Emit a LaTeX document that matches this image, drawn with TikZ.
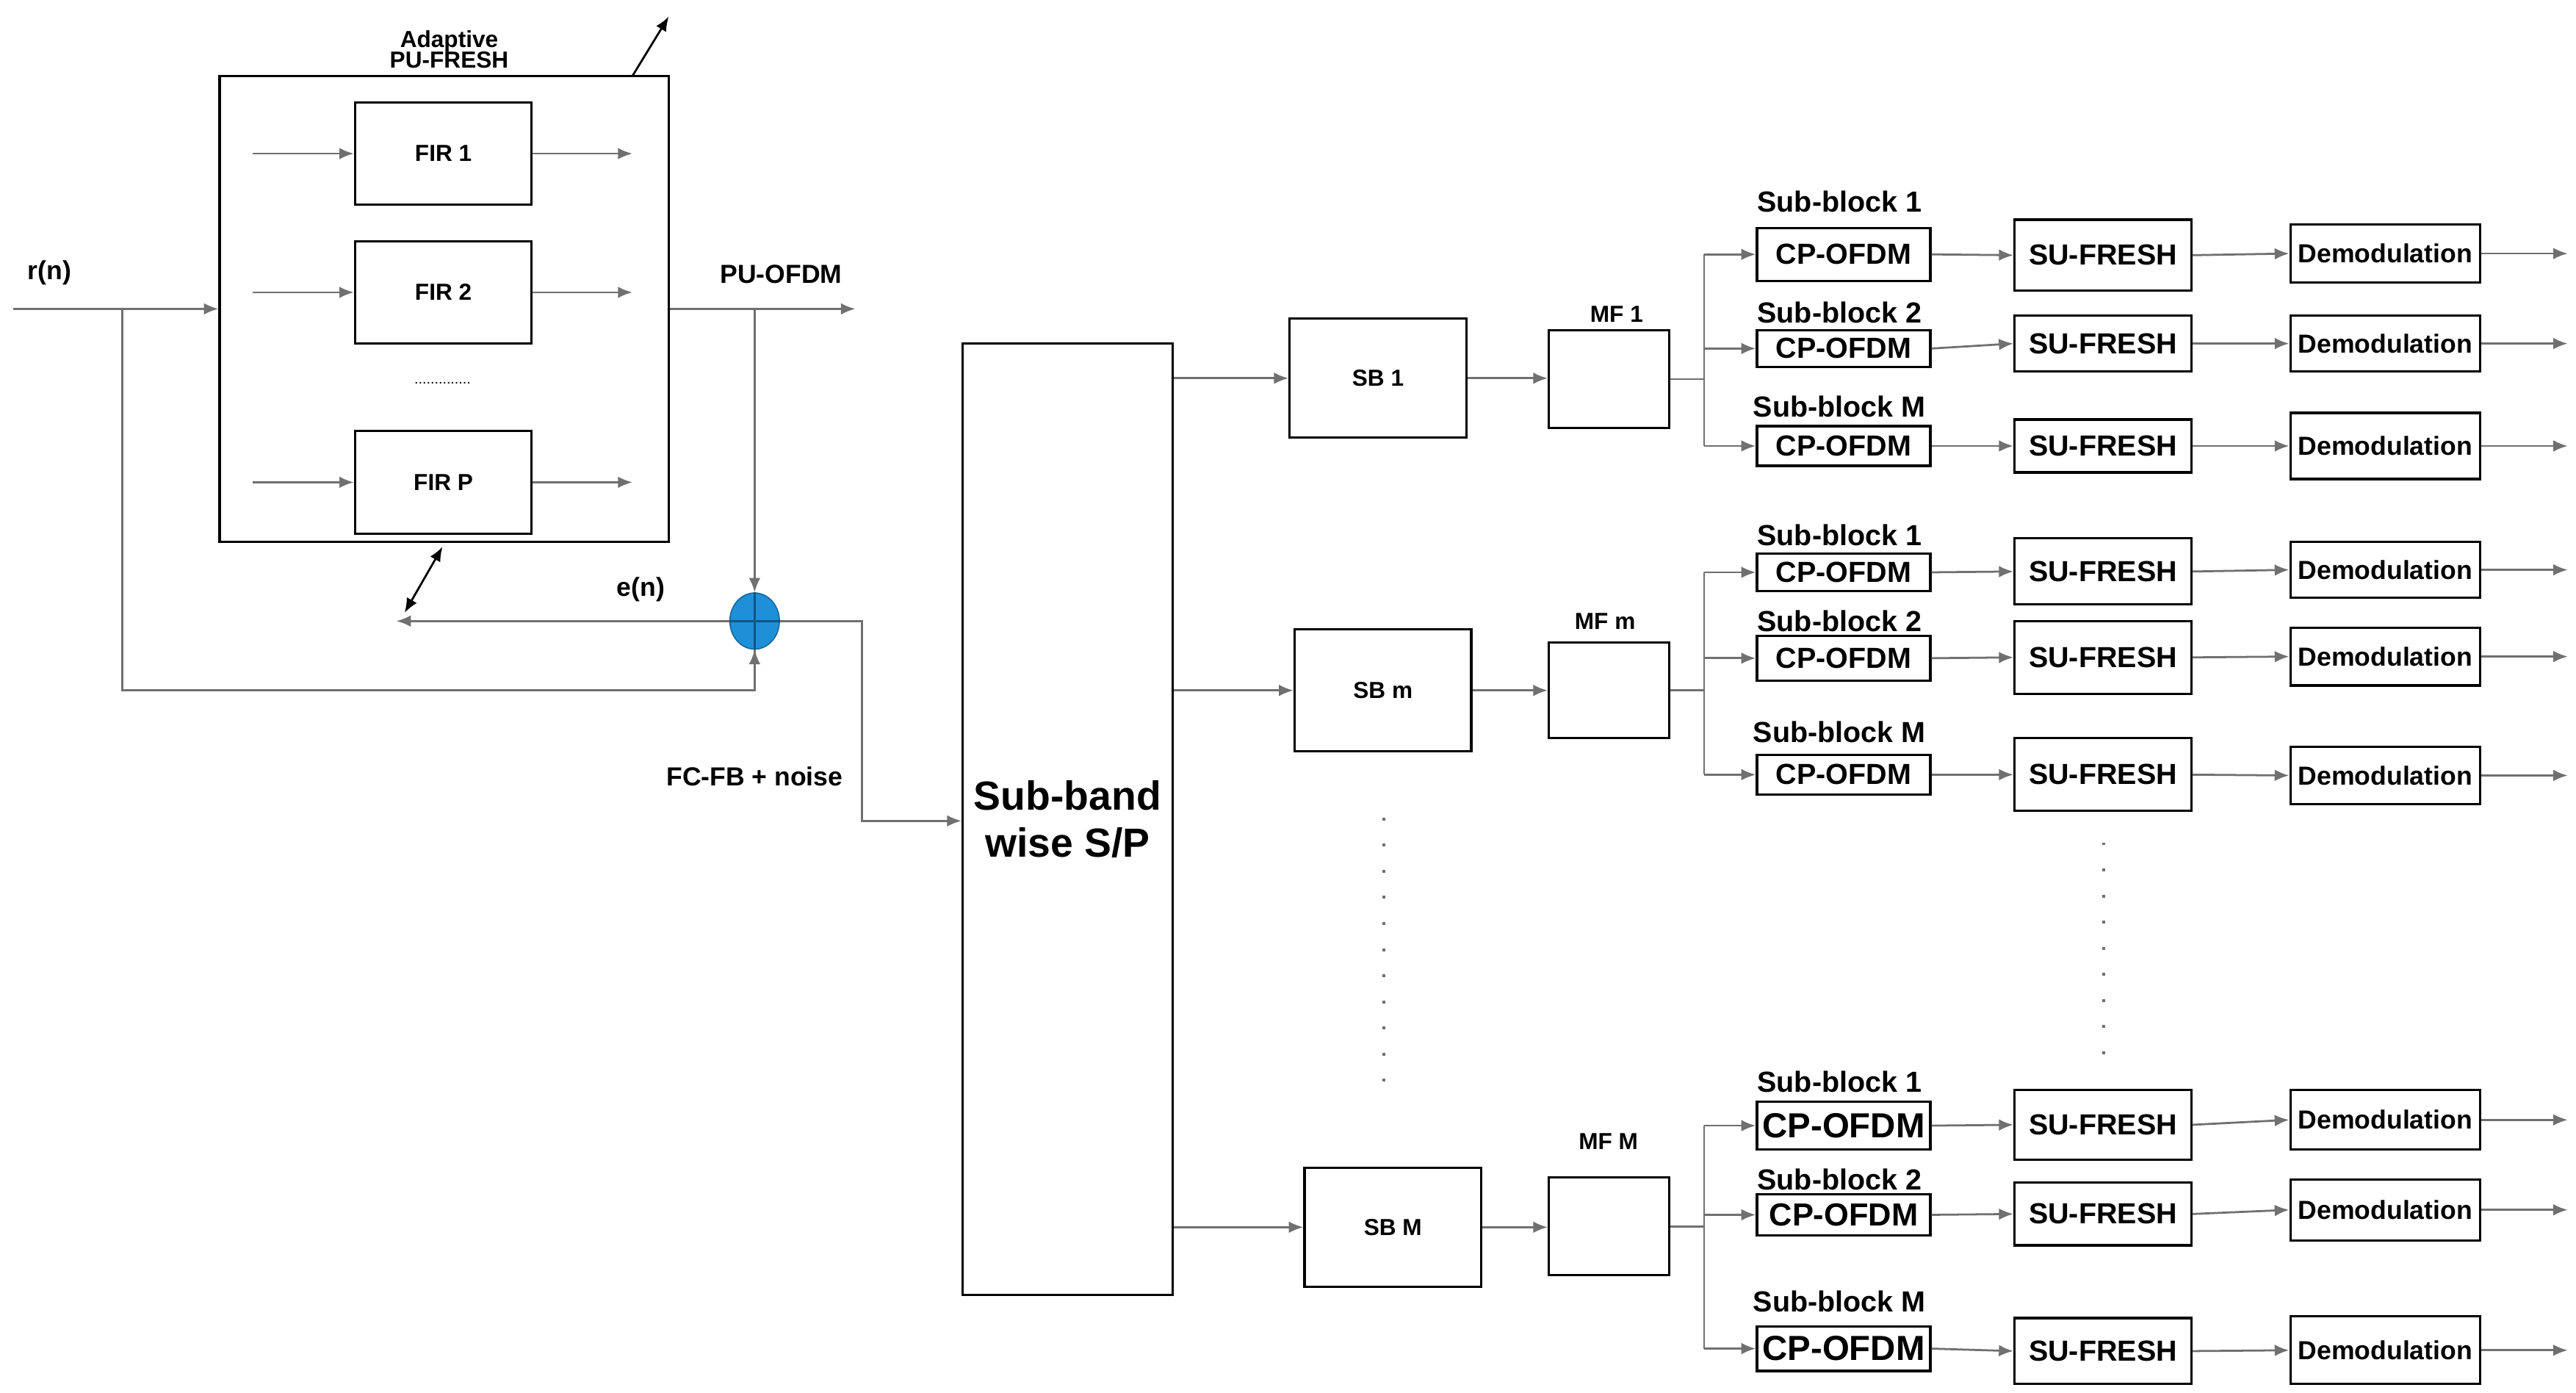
\documentclass[tikz,border=0pt]{standalone}
\usepackage{fontspec}
\setmainfont{Liberation Sans}
\usetikzlibrary{arrows.meta,shapes.geometric}
\definecolor{sumblue}{HTML}{1E90D8}
\definecolor{ln}{HTML}{707070}
\newcommand\bk[7]{\node[box,font=#7,minimum width={(#4-#2)*0.02cm},minimum height={(#5-#3)*0.02cm}] (#1) at ({(#2+#4)/2},{(#3+#5)/2}) {#6};}
\begin{document}
\begin{tikzpicture}[x=0.02cm,y=-0.02cm,
  box/.style={draw,line width=0.8pt,inner sep=0pt},
  arr/.style={draw=ln,line width=0.7pt,-{Latex[length=5pt,width=4pt]}},
  ln/.style={draw=ln,line width=0.7pt},
  lab/.style={font=\bfseries\fontsize{9}{10}\selectfont,inner sep=1pt},
  sm/.style={font=\bfseries\fontsize{8}{9}\selectfont}]
\useasboundingbox (0,0) rectangle (1560,843);
% adaptive filter bank
\bk{outer}{133}{46}{405}{328}{}{\small}
\node[sm,align=center] (adlab) at (272,30) {Adaptive\\[-2pt]PU-FRESH};
\coordinate (tune0) at (383,46); \coordinate (tune1) at (405,10);
\draw[arr,draw=black] (tune0) -- (tune1);
\foreach \n/\t/\ya/\yb in {f1/FIR 1/62/124, f2/FIR 2/146/208, fp/FIR P/261/323}{
  \bk{\n}{215}{\ya}{322}{\yb}{\t}{\bfseries\fontsize{8}{9}\selectfont}
  \coordinate (\n i) at (153,{(\ya+\yb)/2});
  \coordinate (\n o) at (383,{(\ya+\yb)/2});
  \draw[arr] (\n i) -- (\n.west);
  \draw[arr] (\n.east) -- (\n o);
}
\node[font=\tiny] (dots1) at (268,232) {..............};
% input / output / error
\node[lab] (rn) at (30,165) {r(n)};
\coordinate (rin) at (8,187); \coordinate (rb) at (74,187);
\coordinate (rd) at (74,418);
\draw[arr] (rin) -- (outer.west |- rin);
\node[ellipse,draw=sumblue!70!black,fill=sumblue,minimum width=0.6cm,minimum height=0.68cm,inner sep=0pt] (sum) at (457,376) {};
\draw[ln,draw=sumblue!60!black] (sum.north) -- (sum.south) (sum.west) -- (sum.east);
\draw[ln] (rb) -- (rd) -| (sum.south);
\draw[arr] (457,418) -- (sum.south);
\coordinate (pout) at (518,187); \coordinate (pb) at (457,187);
\draw[arr] (outer.east |- pout) -- (pout);
\node[lab] (pulab) at (473,166) {PU-OFDM};
\draw[arr] (pb) -- (sum.north);
\coordinate (eend) at (240,376);
\draw[arr] (sum.west) -- (eend);
\node[lab] (en) at (388,357) {e(n)};
\coordinate (u0) at (245,371); \coordinate (u1) at (268,331);
\draw[ln,draw=black,{Latex[length=5pt,width=4pt]}-{Latex[length=5pt,width=4pt]}] (u0) -- (u1);
% S/P
\bk{sp}{583}{208}{710}{784}{\parbox{2.3cm}{\centering Sub-band\\wise S/P}}{\bfseries\fontsize{14}{16}\selectfont}
\coordinate (c1) at (522,376); \coordinate (c2) at (522,497);
\draw[arr] (sum.east) -- (c1) -- (c2) -- (sp.west |- c2);
\node[lab] (fc) at (457,470) {FC-FB + noise};
% sub-bands
\bk{sb1}{781}{193}{888}{265}{SB 1}{\bfseries\fontsize{8}{9}\selectfont}
\bk{sbm}{784}{381}{891}{455}{SB m}{\bfseries\fontsize{8}{9}\selectfont}
\bk{sbM}{790}{707}{897}{779}{SB M}{\bfseries\fontsize{8}{9}\selectfont}
\draw[arr] (sp.east |- sb1) -- (sb1.west);
\draw[arr] (sp.east |- sbm) -- (sbm.west);
\draw[arr] (sp.east |- sbM) -- (sbM.west);
\draw[ln,line width=1pt,dash pattern=on 1pt off 8pt] (838,495) -- (838,665);
\draw[ln,line width=1pt,dash pattern=on 1pt off 8pt] (1274,510) -- (1274,650);
% matched filters
\bk{mf1}{938}{200}{1011}{259}{}{\small}
\bk{mfm}{938}{389}{1011}{447}{}{\small}
\bk{mfM}{938}{713}{1011}{772}{}{\small}
\node[sm] (mf1l) at (979,190) {MF 1};
\node[sm] (mfml) at (972,376) {MF m};
\node[sm] (mfMl) at (974,691) {MF M};
\draw[arr] (sb1.east) -- (mf1.west |- sb1.east);
\draw[arr] (sbm.east) -- (mfm.west |- sbm.east);
\draw[arr] (sbM.east) -- (mfM.west |- sbM.east);
% rows: id, cp y1,y2, su y1,y2, dm y1,y2, label y, label text, cp font size
\foreach \g/\mf/\rows in {a/mf1/{1/138/170/133/176/136/171/122/Sub-block 1/10, 2/200/222/191/225/191/225/189/Sub-block 2/10, 3/258/282/254/286/250/290/246/Sub-block M/10},
  b/mfm/{1/335/358/326/366/328/362/324/Sub-block 1/10, 2/385/412/376/420/380/415/376/Sub-block 2/10, 3/457/481/447/491/452/487/443/Sub-block M/10},
  c/mfM/{1/667/696/660/702/660/696/655/Sub-block 1/12, 2/723/748/716/754/714/751/714/Sub-block 2/11, 3/803/830/798/838/797/838/788/Sub-block M/12}}{
  \coordinate (\g j) at (1032,0);
  \draw[ln] (\mf.east) -- (\mf.east -| \g j);
  \foreach \r/\ca/\cb/\sa/\sb/\da/\db/\ly/\lt/\fs in \rows {
    \bk{cp\g\r}{1064}{\ca}{1169}{\cb}{CP-OFDM}{\bfseries\fontsize{\fs}{\fs}\selectfont}
    \bk{su\g\r}{1220}{\sa}{1327}{\sb}{SU-FRESH}{\bfseries\fontsize{10}{10}\selectfont}
    \bk{dm\g\r}{1387}{\da}{1502}{\db}{Demodulation}{\bfseries\fontsize{9}{9}\selectfont}
    \node[lab,font=\bfseries\fontsize{10}{11}\selectfont] (sl\g\r) at (1114,\ly) {\lt};
    \coordinate (o\g\r) at (1555,{(\da+\db)/2});
    \draw[ln] (\mf.east -| \g j) -- (\g j |- cp\g\r.west);
    \draw[arr] (\g j |- cp\g\r.west) -- (cp\g\r.west);
    \draw[arr] (cp\g\r.east) -- (su\g\r.west);
    \draw[arr] (su\g\r.east) -- (dm\g\r.west);
    \draw[arr] (dm\g\r.east) -- (o\g\r);
  }
}
\end{tikzpicture}
\end{document}
